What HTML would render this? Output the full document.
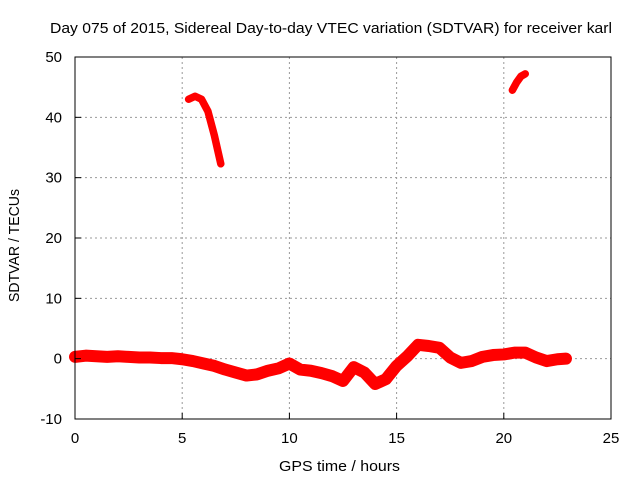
<!DOCTYPE html>
<html><head><meta charset="utf-8"><style>
body{margin:0;background:#fff;width:640px;height:480px;overflow:hidden}
svg text{font-family:"Liberation Sans",sans-serif;font-size:15px;fill:#000}
</style></head><body>
<svg id="chart" width="640" height="480">
<g id="grid"></g>
<g id="series"></g>
<rect x="75" y="57" width="536" height="362" fill="none" stroke="#000" stroke-width="1"/>
<g id="ticks"></g>
<text x="50" y="33" textLength="562" lengthAdjust="spacingAndGlyphs">Day 075 of 2015, Sidereal Day-to-day VTEC variation (SDTVAR) for receiver karl</text>
<text x="279" y="471" textLength="121" lengthAdjust="spacingAndGlyphs">GPS time / hours</text>
<text transform="translate(19,302) rotate(-90)" textLength="113" lengthAdjust="spacingAndGlyphs">SDTVAR / TECUs</text>
</svg>
<script>
const xTicks=[0,5,10,15,20,25];
const yTicks=[-10,0,10,20,30,40,50];
const lowHours=[0,0.5,1,1.5,2,2.5,3,3.5,4,4.5,5,5.5,6,6.5,7,7.5,8,8.5,9,9.5,10,10.5,11,11.5,12,12.5,13,13.5,14,14.5,15,15.5,16,16.5,17,17.5,18,18.5,19,19.5,20,20.5,21,21.5,22,22.5,22.9];
const lowValues=[0.3,0.5,0.4,0.3,0.4,0.3,0.2,0.2,0.1,0.1,-0.1,-0.4,-0.8,-1.2,-1.8,-2.3,-2.8,-2.6,-2,-1.6,-0.8,-1.8,-2,-2.4,-2.9,-3.7,-1.4,-2.3,-4.2,-3.4,-1.2,0.4,2.3,2.1,1.8,0.2,-0.7,-0.4,0.3,0.6,0.7,1,1,0.2,-0.4,-0.1,0];
const seg1Hours=[5.3,5.6,5.9,6.2,6.5,6.8];
const seg1Values=[43,43.5,43,41,37,32.3];
const seg2Hours=[20.4,20.6,20.8,21.0];
const seg2Values=[44.5,45.8,46.8,47.2];
const NS="http://www.w3.org/2000/svg";
const X=h=>75+h*536/25, Y=v=>57+(50-v)*362/60;
const grid=document.getElementById('grid'),ticks=document.getElementById('ticks'),series=document.getElementById('series');
function mk(tag,attrs,parent){const e=document.createElementNS(NS,tag);for(const k in attrs)e.setAttribute(k,attrs[k]);parent.appendChild(e);return e;}
xTicks.forEach(t=>{
 if(t>0&&t<25){const g=mk('line',{x1:X(t),x2:X(t),y1:57,y2:419,stroke:'#999','stroke-dasharray':'2,3'},grid);
 
 }
 const tk=mk('line',{x1:X(t),x2:X(t),y1:419,y2:413,stroke:'#000'},ticks);
 
 
 const tx=mk('text',{x:X(t),y:443,'text-anchor':'middle'},ticks);tx.textContent=t;
 
 
});
yTicks.forEach(t=>{
 if(t>-10&&t<50){const g=mk('line',{x1:75,x2:611,y1:Y(t),y2:Y(t),stroke:'#999','stroke-dasharray':'2,3'},grid);
 
 }
 const tk=mk('line',{x1:75,x2:81,y1:Y(t),y2:Y(t),stroke:'#000'},ticks);
 
 
 const tx=mk('text',{x:62,y:Y(t)+5,'text-anchor':'end'},ticks);tx.textContent=t;
 
 
});
function line(hs,vs,w,name){
 const p=mk('polyline',{points:hs.map((h,i)=>X(h)+','+Y(vs[i])).join(' '),fill:'none',stroke:'#f00','stroke-width':w,'stroke-linejoin':'round','stroke-linecap':'round'},series);
 
 
}
line(lowHours,lowValues,12,'sdtvar-main-series');
line(seg1Hours,seg1Values,7.5,'sdtvar-segment-1');
line(seg2Hours,seg2Values,7.5,'sdtvar-segment-2');
</script>
</body></html>
